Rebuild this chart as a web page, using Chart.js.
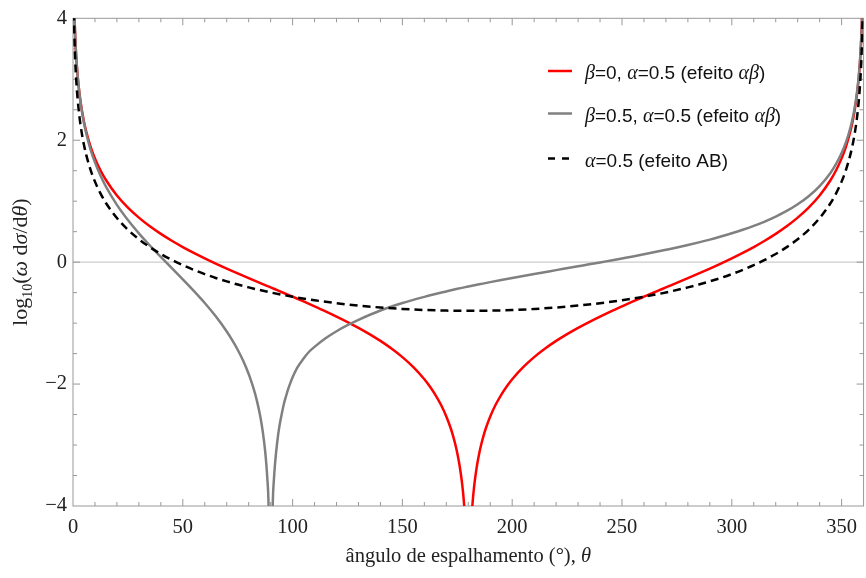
<!DOCTYPE html>
<html>
<head>
<meta charset="utf-8">
<script src="https://cdn.jsdelivr.net/npm/chart.js@4.4.1/dist/chart.umd.min.js"></script>
<style>
    html, body { margin: 0; padding: 0; background: #ffffff; }
    #chartHolder { display: block; }
</style>
</head>
<body>
<canvas id="chartHolder" width="866" height="578"></canvas>
<script>
// scattering angle (degrees) and log10(w dsigma/dtheta)

// beta=0, alpha=0.5 (red)
const beta0Angles = [0.25, 0.5, 1, 1.5, 2, 3, 4, 5, 6, 8, 10, 12.5, 15, 20, 25, 30, 35, 40, 45, 50,
    55, 60, 65, 70, 75, 80, 84, 88, 90, 93, 96, 100, 105, 110, 115, 120, 125, 130, 135, 140,
    145, 150, 155, 160, 162.5, 165, 167.5, 170, 172, 173, 174, 175, 176, 177, 177.5, 178, 178.5, 179, 180,
    181, 181.5, 182, 182.5, 183, 184, 185, 186, 187, 188, 190, 192.5, 195, 197.5, 200, 205, 210, 215, 220, 225,
    230, 235, 240, 245, 250, 255, 260, 264, 267, 270, 272, 276, 280, 285, 290, 295, 300, 305, 310, 315,
    320, 325, 330, 335, 340, 345, 347.5, 350, 352, 354, 355, 356, 357, 358, 358.5, 359, 359.5, 359.75];
const beta0Values = [4.908, 4.306, 3.704, 3.352, 3.102, 2.750, 2.499, 2.305, 2.147, 1.896, 1.702, 1.507, 1.347, 1.093, 0.894, 0.730, 0.588, 0.464, 0.351, 0.248,
    0.153, 0.063, -0.023, -0.105, -0.184, -0.262, -0.323, -0.384, -0.414, -0.460, -0.506, -0.567, -0.644, -0.724, -0.806, -0.892, -0.982, -1.077, -1.180, -1.292,
    -1.417, -1.558, -1.723, -1.922, -2.040, -2.176, -2.336, -2.531, -2.725, -2.841, -2.976, -3.134, -3.328, -3.578, -3.737, -3.931, -4.181, -4.533, -6,
    -4.533, -4.181, -3.931, -3.737, -3.578, -3.328, -3.134, -2.976, -2.841, -2.725, -2.531, -2.336, -2.176, -2.040, -1.922, -1.723, -1.558, -1.417, -1.292, -1.180,
    -1.077, -0.982, -0.892, -0.806, -0.724, -0.644, -0.567, -0.506, -0.460, -0.414, -0.384, -0.323, -0.262, -0.184, -0.105, -0.023, 0.063, 0.153, 0.248, 0.351,
    0.464, 0.588, 0.730, 0.894, 1.093, 1.347, 1.507, 1.702, 1.896, 2.147, 2.305, 2.499, 2.750, 3.102, 3.352, 3.704, 4.306, 4.908];

// beta=0.5, alpha=0.5 (gray)
const beta05Angles = [0.25, 0.5, 1, 1.5, 2, 3, 4, 5, 6, 8, 10, 12.5, 15, 20, 25, 30, 35, 40, 45, 50,
    55, 60, 65, 70, 72.5, 75, 77.5, 80, 81, 82, 83, 84, 85, 86, 87, 87.5, 88, 88.5, 89, 90,
    91, 91.5, 92, 93, 94, 95, 96, 97, 98, 99, 100, 102, 105, 107.5, 110, 115, 120, 125, 130, 140,
    150, 160, 165, 170, 175, 180, 185, 190, 195, 200, 210, 220, 230, 235, 240, 245, 250, 255, 260, 265,
    270, 275, 280, 285, 290, 295, 300, 305, 310, 315, 320, 325, 330, 335, 340, 345, 347.5, 350, 352, 354,
    355, 356, 357, 358, 358.5, 359, 359.5, 359.75];
const beta05Values = [4.920, 4.316, 3.710, 3.354, 3.101, 2.741, 2.483, 2.281, 2.114, 1.847, 1.636, 1.420, 1.238, 0.939, 0.691, 0.473, 0.273, 0.085, -0.099, -0.283,
    -0.472, -0.671, -0.889, -1.137, -1.279, -1.437, -1.619, -1.835, -1.935, -2.046, -2.170, -2.313, -2.479, -2.681, -2.939, -3.101, -3.299, -3.553, -3.909, -6,
    -3.914, -3.560, -3.310, -2.950, -2.690, -2.500, -2.330, -2.200, -2.080, -1.980, -1.890, -1.740, -1.580, -1.470, -1.390, -1.250, -1.133, -1.034, -0.946, -0.793,
    -0.671, -0.569, -0.523, -0.480, -0.437, -0.400, -0.364, -0.328, -0.293, -0.259, -0.194, -0.131, -0.068, -0.036, -0.005, 0.028, 0.061, 0.094, 0.129, 0.165,
    0.202, 0.240, 0.281, 0.324, 0.370, 0.420, 0.473, 0.531, 0.595, 0.666, 0.747, 0.840, 0.950, 1.082, 1.248, 1.468, 1.611, 1.789, 1.969, 2.205,
    2.357, 2.543, 2.786, 3.131, 3.377, 3.725, 4.324, 4.924];

// alpha=0.5, pure AB effect (dashed)
const abAngles = [0.25, 0.5, 1, 1.5, 2, 3, 4, 5, 6, 8, 10, 12.5, 15, 20, 25, 30, 35, 40, 45, 50,
    55, 60, 65, 70, 75, 80, 90, 100, 110, 120, 130, 140, 150, 160, 170, 180,
    190, 200, 210, 220, 230, 240, 250, 260, 270, 280, 285, 290, 295, 300, 305, 310, 315,
    320, 325, 330, 335, 340, 345, 347.5, 350, 352, 354, 355, 356, 357, 358, 358.5, 359, 359.5, 359.75];
const abValues = [4.524, 3.922, 3.320, 2.968, 2.718, 2.366, 2.116, 1.922, 1.764, 1.515, 1.321, 1.128, 0.970, 0.723, 0.531, 0.376, 0.246, 0.134, 0.036, -0.050,
    -0.127, -0.196, -0.259, -0.315, -0.367, -0.414, -0.497, -0.567, -0.625, -0.673, -0.713, -0.744, -0.768, -0.785, -0.795, -0.798,
    -0.795, -0.785, -0.768, -0.744, -0.713, -0.673, -0.625, -0.567, -0.497, -0.414, -0.367, -0.315, -0.259, -0.196, -0.127, -0.050, 0.036,
    0.134, 0.246, 0.376, 0.531, 0.723, 0.970, 1.128, 1.321, 1.515, 1.764, 1.922, 2.116, 2.366, 2.718, 2.968, 3.320, 3.922, 4.524];

const xTicks = [0, 50, 100, 150, 200, 250, 300, 350];
const yTicks = [-4, -2, 0, 2, 4];
const yTickLabels = ["\u22124", "\u22122", "0", "2", "4"];

const serif = "'Liberation Serif', 'Times New Roman', serif";
const sans = "'Liberation Sans', Arial, sans-serif";

// legend rows: [text, italic?]
const legendRows = [
    [["\u03B2", true], ["=0, ", false], ["\u03B1", true], ["=0.5 (efeito ", false], ["\u03B1\u03B2", true], [")", false]],
    [["\u03B2", true], ["=0.5, ", false], ["\u03B1", true], ["=0.5 (efeito ", false], ["\u03B1\u03B2", true], [")", false]],
    [["\u03B1", true], ["=0.5 (efeito AB)", false]]
];

function toPoints(angles, values)
{
    return angles.map((a, i) => ({x: a, y: values[i]}));
}

function strokeLine(ctx, x1, y1, x2, y2)
{
    ctx.beginPath();
    ctx.moveTo(x1, y1);
    ctx.lineTo(x2, y2);
    ctx.stroke();
}

// parts: [text, font, dy]; drawn one after the other on one baseline
function drawParts(ctx, parts, x, y, align)
{
    let total = 0;
    parts.forEach(p => { ctx.font = p[1]; total += ctx.measureText(p[0]).width; });
    let cx = align === "center" ? x - total / 2 : x;
    ctx.textAlign = "left";
    ctx.textBaseline = "alphabetic";
    parts.forEach(p => {
        ctx.font = p[1];
        ctx.fillText(p[0], cx, y + (p[2] || 0));
        cx += ctx.measureText(p[0]).width;
    });
}

const framePlugin = {
    id: "mmaFrame",
    beforeDatasetsDraw(chart)
    {
        const {ctx, chartArea: a, scales: {x, y}} = chart;
        ctx.save();

        // zero line
        const y0 = y.getPixelForValue(0);
        ctx.strokeStyle = "#cdcdcd";
        ctx.lineWidth = 1.2;
        strokeLine(ctx, a.left, y0, a.right, y0);

        // frame
        ctx.strokeStyle = "#999999";
        ctx.lineWidth = 1;
        ctx.strokeRect(a.left, a.top, a.right - a.left, a.bottom - a.top);

        // ticks, inside the frame on all four sides
        for (let v = 10; v < 360; v += 10)
        {
            const px = x.getPixelForValue(v);
            const len = xTicks.includes(v) ? 7 : 4;
            strokeLine(ctx, px, a.bottom, px, a.bottom - len);
            strokeLine(ctx, px, a.top, px, a.top + len);
        }
        for (let v = -3.5; v < 4; v += 0.5)
        {
            const py = y.getPixelForValue(v);
            const len = yTicks.includes(v) ? 7 : 4;
            strokeLine(ctx, a.left, py, a.left + len, py);
            strokeLine(ctx, a.right, py, a.right - len, py);
        }
        ctx.restore();
    },
    afterDraw(chart)
    {
        const {ctx, chartArea: a} = chart;
        ctx.save();
        ctx.fillStyle = "#222222";

        // x axis title
        drawParts(ctx, [
            ["\u00E2ngulo de espalhamento (\u00B0), ", "20.5px " + serif],
            ["\u03B8", "italic 20.5px " + serif]
        ], (a.left + a.right) / 2, 562, "center");

        // y axis title, rotated
        ctx.translate(27, (a.top + a.bottom) / 2);
        ctx.rotate(-Math.PI / 2);
        drawParts(ctx, [
            ["log", "22px " + serif],
            ["10", "14px " + serif, 5],
            ["(", "22px " + serif],
            ["\u03C9", "italic 22px " + serif],
            [" d", "22px " + serif],
            ["\u03C3", "italic 22px " + serif],
            ["/d", "22px " + serif],
            ["\u03B8", "italic 22px " + serif],
            [")", "22px " + serif]
        ], 0, 0, "center");
        ctx.restore();

        // legend
        const rowY = [71, 113.5, 158.5];
        const styles = [
            {color: "#ff0000", dash: []},
            {color: "#808080", dash: []},
            {color: "#000000", dash: [7, 7]}
        ];
        ctx.save();
        legendRows.forEach((row, i) => {
            ctx.strokeStyle = styles[i].color;
            ctx.lineWidth = 2.5;
            ctx.setLineDash(styles[i].dash);
            strokeLine(ctx, 548, rowY[i], 572, rowY[i]);
            ctx.setLineDash([]);
            ctx.fillStyle = "#111111";
            const parts = row.map(p => [p[0], p[1] ? "italic 20px " + serif : "19px " + sans]);
            drawParts(ctx, parts, 585, rowY[i] + 8.3, "left");
        });
        ctx.restore();
    }
};

createChart();

function createChart()
{
    const chartHolder = document.getElementById("chartHolder");

    const datasets = [
        {label: "beta=0, alpha=0.5", data: toPoints(beta0Angles, beta0Values), borderColor: "#ff0000", order: 2},
        {label: "beta=0.5, alpha=0.5", data: toPoints(beta05Angles, beta05Values), borderColor: "#808080", order: 1},
        {label: "alpha=0.5 (AB)", data: toPoints(abAngles, abValues), borderColor: "#000000", borderDash: [8, 5], order: 0}
    ].map(d => Object.assign(d, {borderWidth: 2.5, pointRadius: 0, fill: false, cubicInterpolationMode: "monotone"}));

    const tickFont = {family: serif, size: 20.5};

    new Chart(chartHolder, {
        type: "line",
        data: {datasets: datasets},
        plugins: [framePlugin],
        options: {
            responsive: false,
            animation: false,
            devicePixelRatio: 1,
            layout: {padding: {left: 0, right: 1, top: 17, bottom: 0}},
            plugins: {
                legend: {display: false},
                tooltip: {enabled: false}
            },
            scales: {
                x: {
                    type: "linear",
                    min: 0,
                    max: 360,
                    grid: {display: false, drawTicks: false},
                    border: {display: false},
                    ticks: {font: tickFont, color: "#222222", padding: 9, maxRotation: 0, autoSkip: false, includeBounds: false},
                    afterBuildTicks: scale => { scale.ticks = xTicks.map(v => ({value: v})); },
                    afterFit: scale => { scale.height = 72; }
                },
                y: {
                    type: "linear",
                    min: -4,
                    max: 4,
                    grid: {display: false, drawTicks: false},
                    border: {display: false},
                    ticks: {
                        font: tickFont,
                        color: "#222222",
                        padding: 6,
                        autoSkip: false,
                        callback: value => yTickLabels[yTicks.indexOf(value)]
                    },
                    afterBuildTicks: scale => { scale.ticks = yTicks.map(v => ({value: v})); },
                    afterFit: scale => { scale.width = 73; }
                }
            }
        }
    });
}
</script>
</body>
</html>
